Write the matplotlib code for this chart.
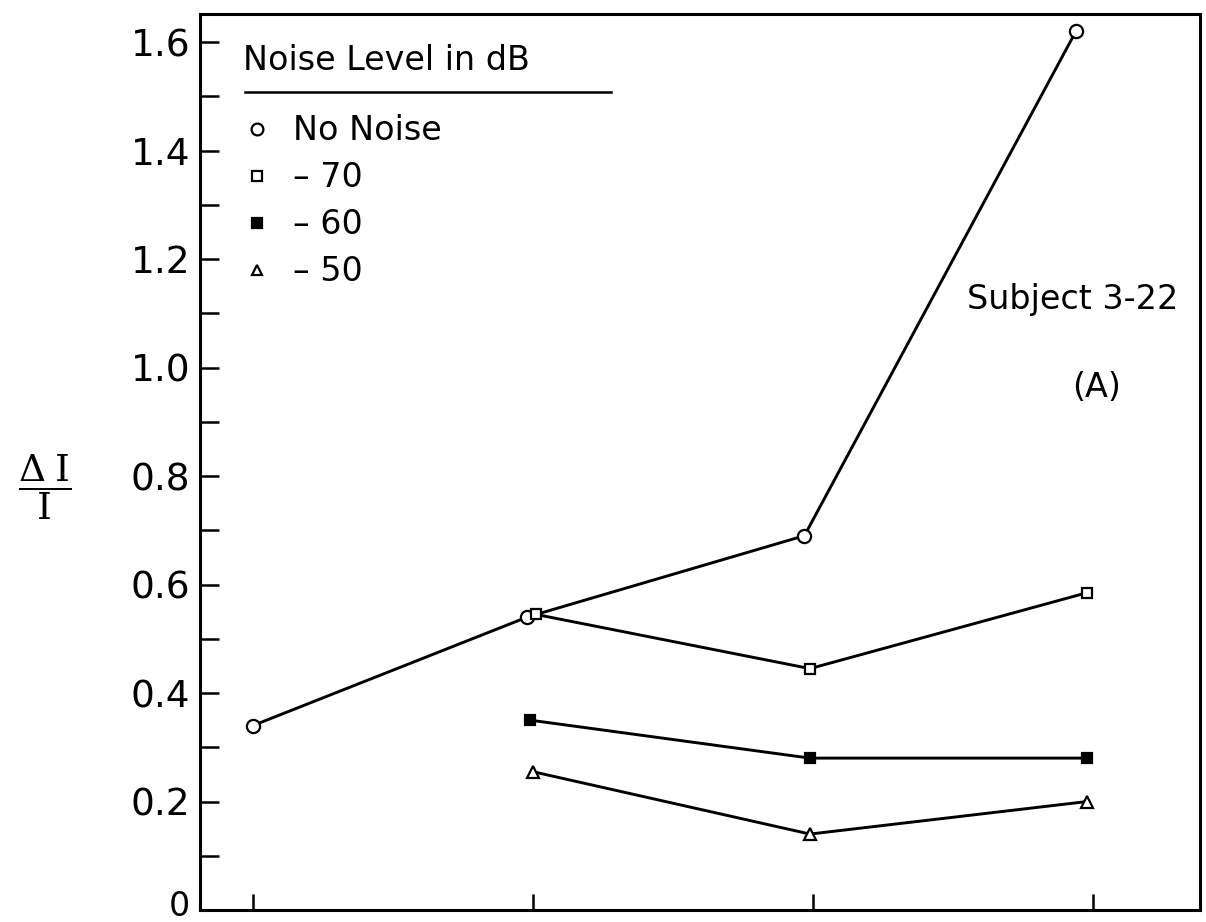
import matplotlib
matplotlib.use("Agg")
import matplotlib.pyplot as plt
from matplotlib.lines import Line2D
from matplotlib.ticker import MultipleLocator
from matplotlib.transforms import ScaledTranslation

# Delta I / I for each noise level (x = stimulus position 1..4)
no_noise_x = [1.0, 1.98, 2.97, 3.94]
no_noise_y = [0.34, 0.54, 0.69, 1.62]

db70_x = [2.01, 2.99, 3.98]
db70_y = [0.545, 0.445, 0.585]

db60_x = [1.99, 2.99, 3.98]
db60_y = [0.35, 0.28, 0.28]

db50_x = [2.0, 2.99, 3.98]
db50_y = [0.255, 0.14, 0.20]

legend_labels = ["No Noise", "\u2013 70", "\u2013 60", "\u2013 50"]
ytick_values = [0, 0.2, 0.4, 0.6, 0.8, 1.0, 1.2, 1.4, 1.6]
ytick_labels = ["0", "0.2", "0.4", "0.6", "0.8", "1.0", "1.2", "1.4", "1.6"]
xtick_values = [1, 2, 3, 4]

plt.rcParams["font.family"] = ["DejaVu Sans"]
plt.rcParams["mathtext.fontset"] = "dejavuserif"

fig = plt.figure(figsize=(12.06, 9.22), dpi=100)
ax = fig.add_axes([0.1658, 0.013, 0.829, 0.972])

lw = 2.1
ax.plot(no_noise_x, no_noise_y, color="black", lw=lw, marker="o", ms=9.5,
        mfc="white", mec="black", mew=1.6, zorder=3)
ax.plot(db70_x, db70_y, color="black", lw=lw, marker="s", ms=7.5,
        mfc="white", mec="black", mew=1.6, zorder=3)
ax.plot(db60_x, db60_y, color="black", lw=lw, marker="s", ms=7.5,
        mfc="black", mec="black", mew=1.6, zorder=3)
ax.plot(db50_x, db50_y, color="black", lw=lw, marker="^", ms=8.5,
        mfc="white", mec="black", mew=1.6, zorder=3)

ax.set_xlim(0.811, 4.382)
ax.set_ylim(0, 1.652)

for side in ["left", "right", "top", "bottom"]:
    ax.spines[side].set_linewidth(2.2)

ax.set_xticks(xtick_values)
ax.set_xticklabels([])
ax.tick_params(axis="x", direction="in", length=11.5, width=1.8)

ax.set_yticks(ytick_values)
ax.set_yticklabels(ytick_labels, fontsize=27)
ax.yaxis.set_minor_locator(MultipleLocator(0.1))
ax.tick_params(axis="y", which="both", direction="in", length=14, width=1.8, pad=7)

# the zero label sits a little higher and smaller at the corner
zero_lab = ax.get_yticklabels()[0]
zero_lab.set_fontsize(24)
zero_lab.set_transform(zero_lab.get_transform() +
                       ScaledTranslation(0, 5 / 72, fig.dpi_scale_trans))

ax.set_ylabel(r"$\dfrac{\Delta\;\mathrm{I}}{\mathrm{I}}$", fontsize=27, rotation=0,
              va="center", ha="center")
ax.yaxis.set_label_coords(-0.155, 0.472)

# legend block with underlined heading
ax.text(0.043, 0.948, "Noise Level in dB", transform=ax.transAxes,
        fontsize=24, ha="left", va="center")
ax.plot([0.045, 0.411], [0.913, 0.913], transform=ax.transAxes,
        color="black", lw=1.8, clip_on=False)

handles = [
    Line2D([], [], ls="none", marker="o", ms=8.5, mfc="white", mec="black", mew=1.6),
    Line2D([], [], ls="none", marker="s", ms=7, mfc="white", mec="black", mew=1.6),
    Line2D([], [], ls="none", marker="s", ms=7, mfc="black", mec="black", mew=1.6),
    Line2D([], [], ls="none", marker="^", ms=7, mfc="white", mec="black", mew=1.6),
]
ax.legend(handles, legend_labels, loc="upper left", bbox_to_anchor=(0.04, 0.888),
          frameon=False, fontsize=24, handlelength=1.0, handletextpad=0.6,
          labelspacing=0.42, borderpad=0, borderaxespad=0)

ax.text(0.873, 0.681, "Subject 3-22", transform=ax.transAxes, fontsize=24,
        ha="center", va="center")
ax.text(0.897, 0.583, "(A)", transform=ax.transAxes, fontsize=24,
        ha="center", va="center")

fig.savefig("out.png", dpi=100)
